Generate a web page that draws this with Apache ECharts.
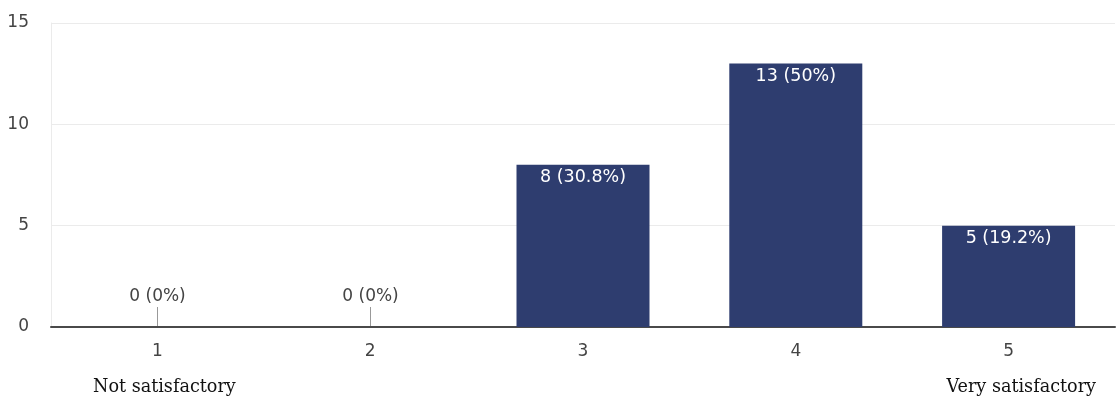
<!DOCTYPE html>
<html>
<head>
<meta charset="utf-8">
<style>
  html, body { margin: 0; padding: 0; background: #fff; }
  #chart { width: 1116px; height: 402px; }
</style>
<script src="https://cdn.jsdelivr.net/npm/echarts@6/dist/echarts.min.js"></script>
</head>
<body>
<div id="chart"></div>
<script>
// Satisfaction ratings (1 = not satisfactory, 5 = very satisfactory)
const categories = ['1', '2', '3', '4', '5'];
const counts = [0, 0, 8, 13, 5];
const yTicks = { min: 0, max: 15, interval: 5 };
const scaleEnds = ['Not satisfactory', 'Very satisfactory'];

const total = counts.reduce((a, b) => a + b, 0);
function pct(v) {
  const p = Math.round(v / total * 1000) / 10;
  return (p % 1 === 0 ? p.toFixed(0) : p.toFixed(1)) + '%';
}
const labelText = v => v + ' (' + pct(v) + ')';

const chart = echarts.init(document.getElementById('chart'), null, { renderer: 'canvas' });

const textColor = '#444';
const font = '"DejaVu Sans", Arial, sans-serif';
const serif = '"DejaVu Serif", "Liberation Serif", serif';

chart.setOption({
  animation: false,
  grid: { left: 51, right: 1, top: 23, bottom: 75 },
  xAxis: {
    type: 'category',
    data: categories,
    axisLine: { lineStyle: { color: '#4a4a4a', width: 2 } },
    axisTick: { show: false },
    axisLabel: { color: textColor, fontSize: 17, fontFamily: font, margin: 16 }
  },
  yAxis: {
    type: 'value',
    min: yTicks.min,
    max: yTicks.max,
    interval: yTicks.interval,
    axisLine: { show: true, lineStyle: { color: '#ebebeb', width: 1 } },
    axisTick: { show: false },
    splitLine: { lineStyle: { color: '#ebebeb', width: 1 } },
    axisLabel: { color: textColor, fontSize: 17, fontFamily: font, margin: 22 }
  },
  series: [
    {
      type: 'bar',
      data: counts.map(v => v === 0 ? null : v),
      barWidth: '62.5%',
      itemStyle: { color: '#2e3d6f' },
      label: {
        show: true,
        position: 'insideTop',
        distance: 4,
        color: '#fff',
        fontSize: 17.5,
        fontFamily: font,
        formatter: p => labelText(p.value)
      },
      z: 2
    },
    {
      // Zero counts: a short stub above the baseline with its label
      type: 'custom',
      data: counts.map((v, i) => [i, v]),
      renderItem: function (params, api) {
        const v = api.value(1);
        if (v !== 0) return null;
        const base = api.coord([api.value(0), 0]);
        const x = Math.round(base[0]) + 0.5;
        return {
          type: 'group',
          children: [
            {
              type: 'line',
              shape: { x1: x, y1: base[1] - 1, x2: x, y2: base[1] - 20 },
              style: { stroke: '#999', lineWidth: 1 }
            },
            {
              type: 'text',
              style: {
                x: x, y: base[1] - 22,
                text: labelText(v),
                fill: textColor,
                font: '17px ' + font,
                textAlign: 'center',
                textVerticalAlign: 'bottom'
              }
            }
          ]
        };
      },
      z: 3
    }
  ],
  graphic: [
    {
      type: 'text',
      left: 93, top: 378,
      style: { text: scaleEnds[0], fill: '#111', font: '17.6px ' + serif }
    },
    {
      type: 'text',
      right: 20, top: 378,
      style: { text: scaleEnds[1], fill: '#111', font: '17.6px ' + serif }
    }
  ]
});
</script>
</body>
</html>
